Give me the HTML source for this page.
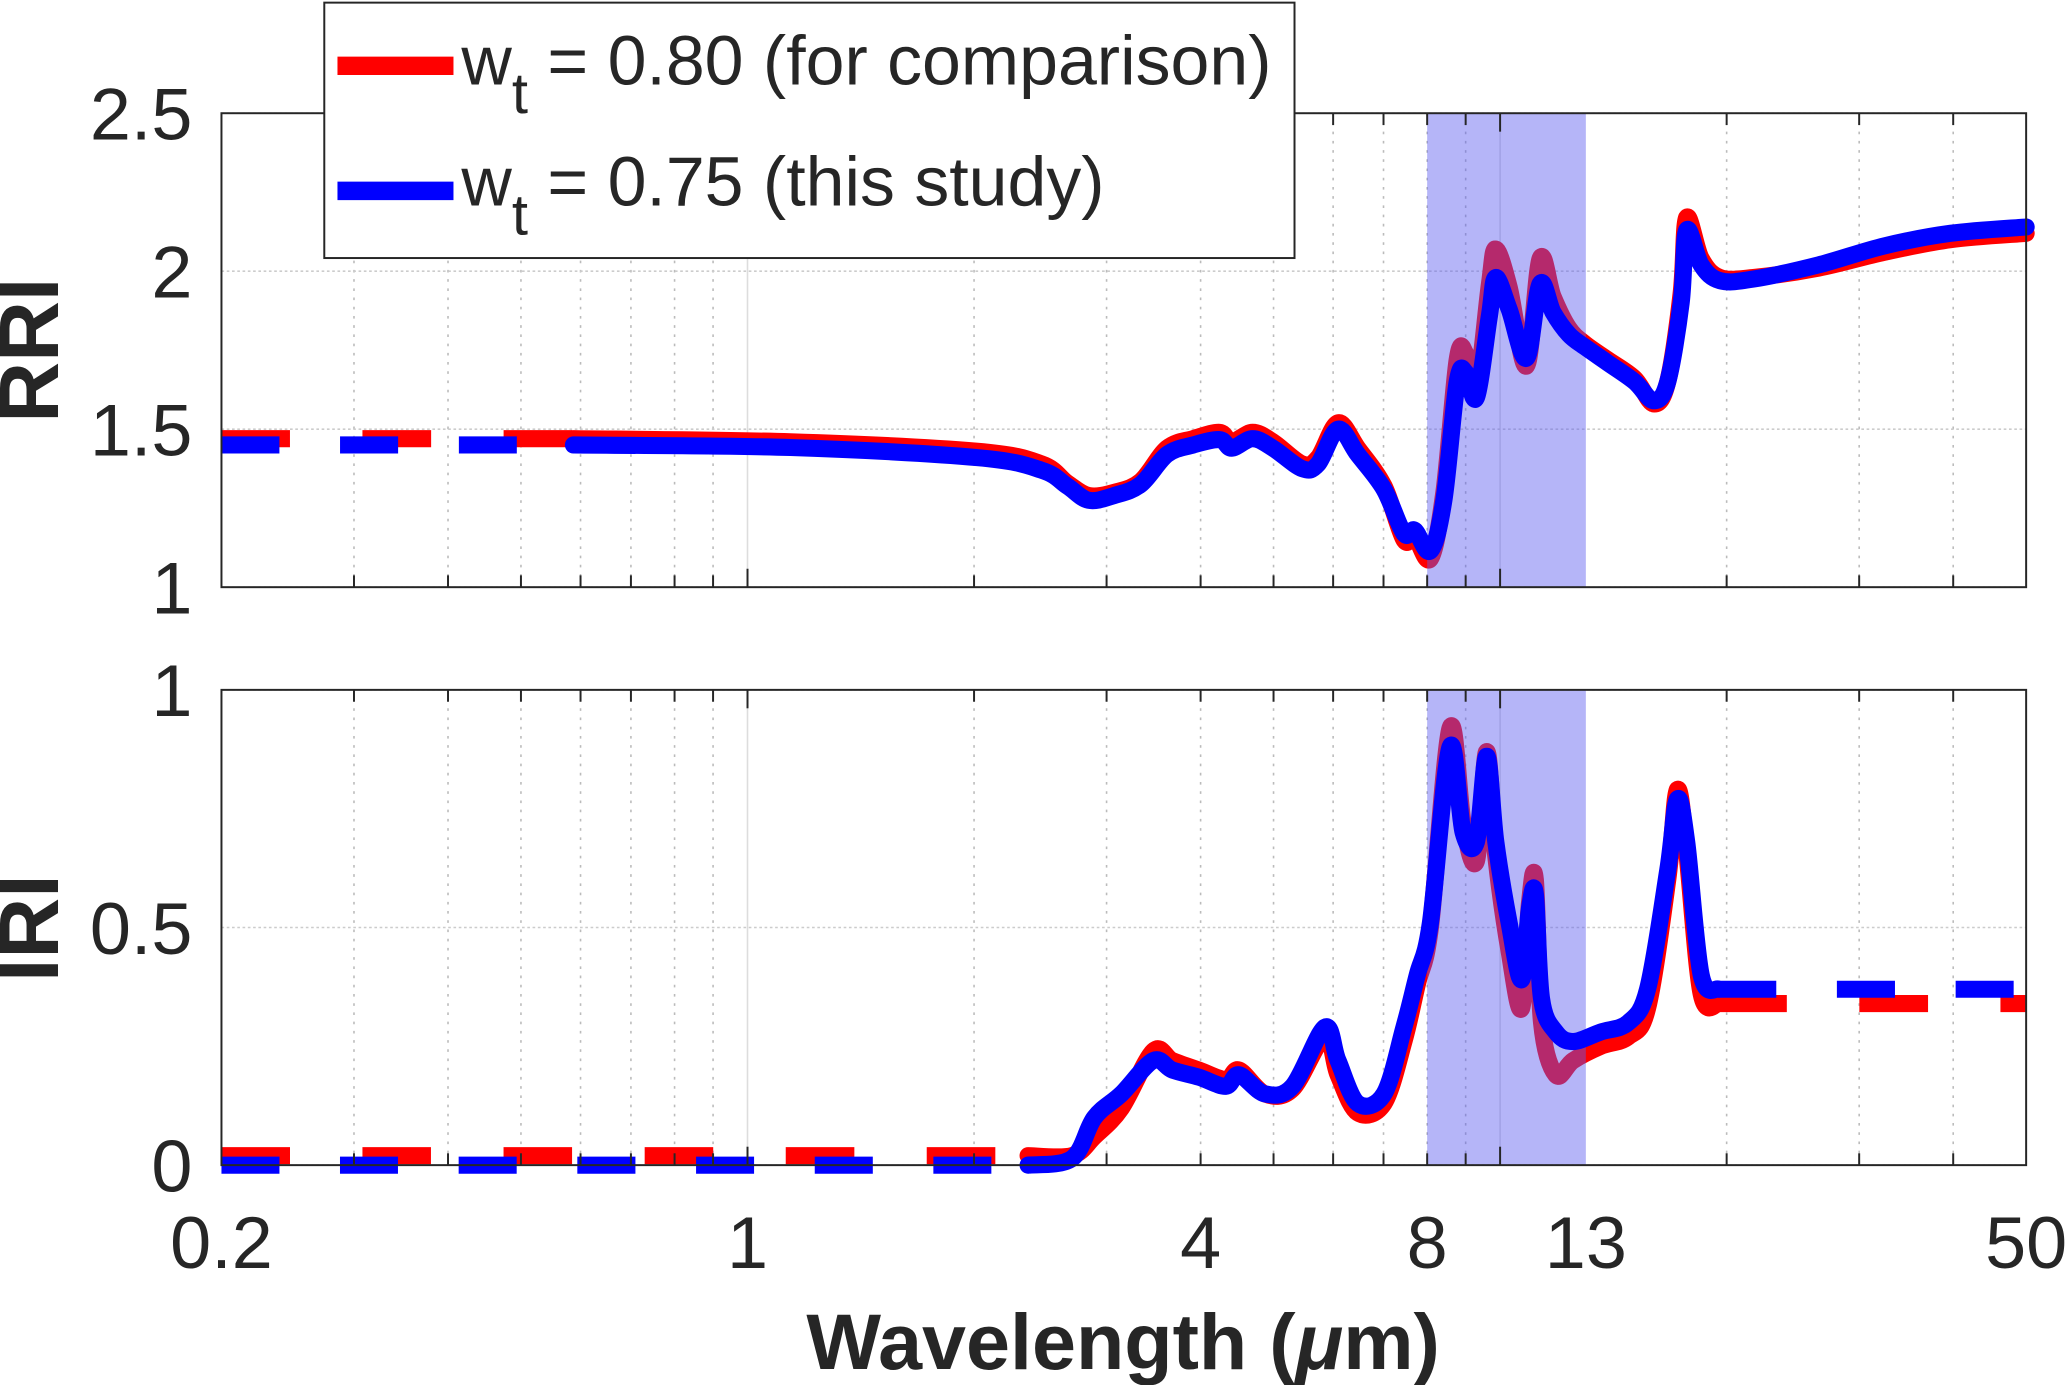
<!DOCTYPE html>
<html><head><meta charset="utf-8"><style>
html,body{margin:0;padding:0;background:#fff;}
svg{display:block;}
text{font-family:"Liberation Sans",Arial,sans-serif;fill:#262626;}
</style></head><body>
<svg id="chart" width="2067" height="1385" viewBox="0 0 1568 1052" preserveAspectRatio="none" xmlns="http://www.w3.org/2000/svg">
<g id="grid"></g>
<g id="series"></g>
<g id="axes"></g>
<text x="44" y="266" font-size="64" font-weight="bold" text-anchor="middle" transform="rotate(-90 44 266)">RRI</text>
<text x="44" y="705" font-size="64" font-weight="bold" text-anchor="middle" transform="rotate(-90 44 705)">IRI</text>
<text x="852" y="1040" font-size="60" font-weight="bold" text-anchor="middle">Wavelength (<tspan font-style="italic">μ</tspan>m)</text>
<g>
<rect x="246" y="2" width="736" height="194" fill="#fff" stroke="#262626" stroke-width="1.5"/>
<line x1="256" y1="50" x2="344" y2="50" stroke="#ff0000" stroke-width="14"/>
<text x="350" y="64" font-size="53" fill="#000">w<tspan dy="22" font-size="44">t</tspan><tspan dy="-22"> = 0.80 (for comparison)</tspan></text>
<line x1="256" y1="145" x2="344" y2="145" stroke="#0000ff" stroke-width="14"/>
<text x="350" y="156" font-size="53" fill="#000">w<tspan dy="22" font-size="44">t</tspan><tspan dy="-22"> = 0.75 (this study)</tspan></text>
</g>
</svg>
<script>
const wl = [0.2,0.587,1.14,2.02,2.46,2.66,2.84,3.07,3.33,3.61,3.91,4.24,4.4,4.69,4.99,5.46,5.73,6.09,6.47,7.01,7.45,7.7,8.08,8.42,8.77,9.0,9.3,9.68,9.87,10.28,10.84,11.3,11.76,12.34,12.97,13.9,15.1,16.0,16.7,17.4,17.7,18.5,19.6,21.7,26.5,32.4,39.7,50];
const rriBlue = [1.45,1.45,1.442,1.41,1.37,1.32,1.275,1.29,1.325,1.42,1.45,1.467,1.44,1.47,1.44,1.375,1.39,1.5,1.42,1.31,1.17,1.18,1.115,1.275,1.65,1.68,1.6,1.86,1.98,1.88,1.725,1.96,1.87,1.8,1.76,1.71,1.65,1.59,1.65,1.9,2.13,2.02,1.97,1.975,2.02,2.08,2.12,2.14];
const rriRed = [1.47,1.47,1.46,1.43,1.39,1.33,1.29,1.3,1.335,1.44,1.47,1.49,1.46,1.49,1.46,1.39,1.41,1.52,1.44,1.32,1.15,1.16,1.09,1.3,1.72,1.74,1.63,1.96,2.07,1.95,1.7,2.04,1.92,1.82,1.77,1.72,1.66,1.58,1.65,1.93,2.17,2.04,1.98,1.98,2.01,2.06,2.1,2.12];
const rriDashEnd = 0.587;
const wlI = [0.2,2.36,2.7,2.89,3.14,3.46,3.67,3.98,4.32,4.5,4.87,5.3,5.85,6.09,6.47,7.01,7.45,7.76,8.08,8.58,8.93,9.3,9.6,9.87,10.28,10.68,10.94,11.14,11.35,11.86,12.5,13.6,14.8,15.7,16.7,17.2,17.7,18.5,19.5,50];
const iriBlue = [0,0,0.014,0.1,0.15,0.22,0.2,0.185,0.166,0.19,0.15,0.166,0.29,0.22,0.13,0.15,0.29,0.4,0.51,0.88,0.7,0.68,0.86,0.68,0.51,0.39,0.54,0.57,0.35,0.28,0.26,0.28,0.3,0.37,0.62,0.77,0.68,0.4,0.37,0.37];
const iriRed = [0.02,0.02,0.02,0.06,0.12,0.24,0.22,0.2,0.18,0.2,0.15,0.16,0.27,0.19,0.11,0.13,0.26,0.38,0.5,0.92,0.72,0.64,0.87,0.65,0.45,0.33,0.55,0.6,0.3,0.19,0.22,0.25,0.27,0.33,0.6,0.79,0.66,0.36,0.34,0.34];
const iriDashEndLeft = 2.36;
const iriDashStartRight = 19.5;
const yTicksTop = [1,1.5,2,2.5];
const yTickLabelsTop = ["1","1.5","2","2.5"];
const yTicksBot = [0,0.5,1];
const yTickLabelsBot = ["0","0.5","1"];
const xTicks = [0.2,1,4,8,13,50];
const xTickLabels = ["0.2","1","4","8","13","50"];
const band = [8,13];

const NS="http://www.w3.org/2000/svg";
const L=168,R=1537,TT=86,TB=446,BT=524,BB=885;
const X=l=>L+(R-L)*Math.log10(l/0.2)/Math.log10(250);
const YT=v=>TB-(TB-TT)*(v-1)/1.5;
const YB=v=>BB-(BB-BT)*v;
function mk(tag,attrs,parent){const e=document.createElementNS(NS,tag);for(const k in attrs)e.setAttribute(k,attrs[k]);parent.appendChild(e);return e;}
const grid=document.getElementById('grid'),ser=document.getElementById('series'),ax=document.getElementById('axes');
const minors=[];
for(const d of [0.1,1,10]){for(let m=2;m<=9;m++){const v=m*d;if(v>0.2&&v<50)minors.push(v);}}
for(const [t,b] of [[TT,TB],[BT,BB]]){
  for(const v of minors){const g=mk('line',{x1:X(v),x2:X(v),y1:t,y2:b,stroke:'#bbb','stroke-width':1.2,'stroke-dasharray':'2 5'},grid);
    }
  for(const v of [1,10]){const g=mk('line',{x1:X(v),x2:X(v),y1:t,y2:b,stroke:'#ddd','stroke-width':1.2},grid);
    }
}
yTicksTop.forEach(v=>{const g=mk('line',{x1:L,x2:R,y1:YT(v),y2:YT(v),stroke:'#ccc','stroke-width':1.2,'stroke-dasharray':'2 2'},grid);
  });
yTicksBot.forEach(v=>{const g=mk('line',{x1:L,x2:R,y1:YB(v),y2:YB(v),stroke:'#ccc','stroke-width':1.2,'stroke-dasharray':'2 2'},grid);
  });

function path(ws,vs,Y,from,to){
  const pts=[];for(let i=0;i<ws.length;i++){if(ws[i]<from-1e-9||ws[i]>to+1e-9)continue;pts.push([X(ws[i]),Y(vs[i])]);}
  if(!pts.length)return '';
  let p='M'+pts[0][0].toFixed(1)+','+pts[0][1].toFixed(1);
  for(let i=0;i<pts.length-1;i++){
    const p0=pts[Math.max(0,i-1)],p1=pts[i],p2=pts[i+1],p3=pts[Math.min(pts.length-1,i+2)];
    const c1=[p1[0]+(p2[0]-p0[0])/6,p1[1]+(p2[1]-p0[1])/6],c2=[p2[0]-(p3[0]-p1[0])/6,p2[1]-(p3[1]-p1[1])/6];
    p+='C'+c1[0].toFixed(1)+','+c1[1].toFixed(1)+' '+c2[0].toFixed(1)+','+c2[1].toFixed(1)+' '+p2[0].toFixed(1)+','+p2[1].toFixed(1);
  }
  return p;
}
function draw(ws,vs,Y,color,dash,dEndL,dStartR,name){
  const a=mk('path',{d:path(ws,vs,Y,0.2,dEndL),fill:'none',stroke:color,'stroke-width':13,'stroke-dasharray':dash},ser);
  
  const b=mk('path',{d:path(ws,vs,Y,dEndL,dStartR),fill:'none',stroke:color,'stroke-width':13,'stroke-linejoin':'round','stroke-linecap':'round'},ser);
  
  if(dStartR<50){const c=mk('path',{d:path(ws,vs,Y,dStartR,50),fill:'none',stroke:color,'stroke-width':13,'stroke-dasharray':dash},ser);
    }
}
draw(wl,rriRed,YT,'#ff0000','52 55',rriDashEnd,50,'rri-red-line');
draw(wlI,iriRed,YB,'#ff0000','52 55',iriDashEndLeft,iriDashStartRight,'iri-red-line');
for(const [t,b] of [[TT,TB],[BT,BB]]){
  const s=mk('rect',{x:X(band[0]),y:t,width:X(band[1])-X(band[0]),height:b-t,fill:'rgba(90,90,240,0.45)',stroke:'none'},ser);
  
}
draw(wl,rriBlue,YT,'#0000ff','44 46',rriDashEnd,50,'rri-blue-line');
draw(wlI,iriBlue,YB,'#0000ff','44 46',iriDashEndLeft,iriDashStartRight,'iri-blue-line');

for(const [t,b,name] of [[TT,TB,'top'],[BT,BB,'bottom']]){
  const r=mk('rect',{x:L,y:t,width:R-L,height:b-t,fill:'none',stroke:'#262626','stroke-width':1.5},ax);
  
  [...minors,1,10].forEach(v=>{const big=(v===1||v===10);const len=big?14:9;
    const tk=mk('line',{x1:X(v),x2:X(v),y1:b,y2:b-len,stroke:'#262626','stroke-width':1.5},ax);
    
    const tk2=mk('line',{x1:X(v),x2:X(v),y1:t,y2:t+len,stroke:'#262626','stroke-width':1.5},ax);
    });
}
yTicksTop.forEach((v,i)=>{const t=mk('text',{x:146,y:YT(v)+20,'font-size':56,'text-anchor':'end'},ax);t.textContent=yTickLabelsTop[i];
  });
yTicksBot.forEach((v,i)=>{const t=mk('text',{x:146,y:YB(v)+20,'font-size':56,'text-anchor':'end'},ax);t.textContent=yTickLabelsBot[i];
  });
xTicks.forEach((v,i)=>{const t=mk('text',{x:X(v),y:963,'font-size':56,'text-anchor':'middle'},ax);t.textContent=xTickLabels[i];
  });
</script>
</body></html>
